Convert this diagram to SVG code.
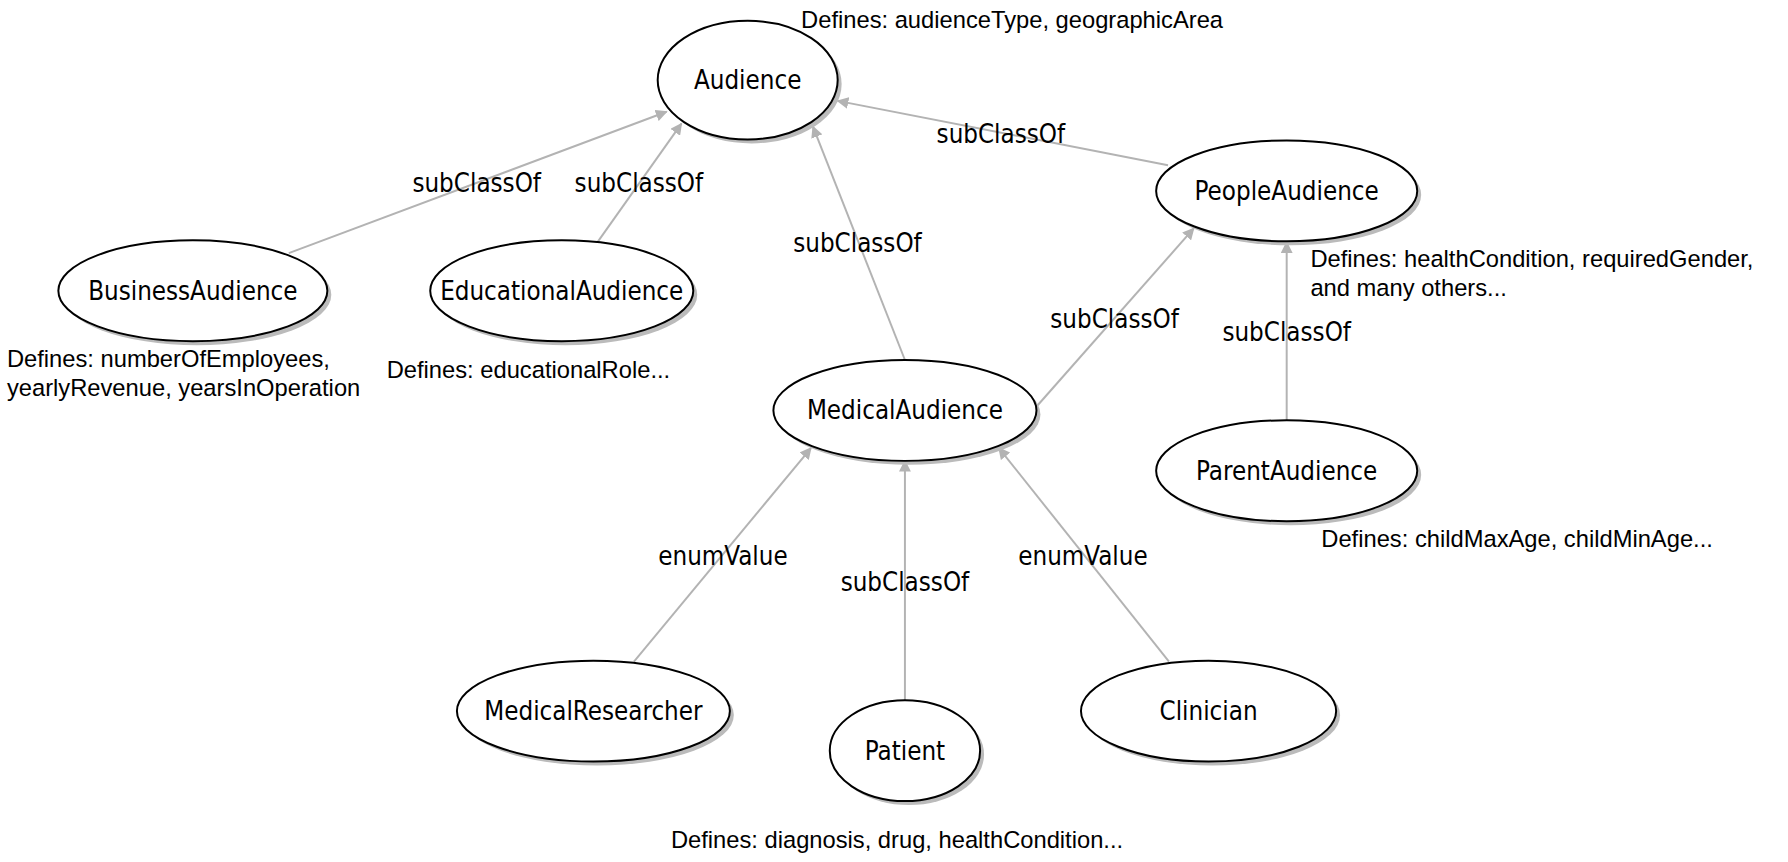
<svg xmlns="http://www.w3.org/2000/svg" width="1788" height="862" viewBox="0 0 1788 862">
<style>
.n ellipse.b{fill:#fff;stroke:#000;stroke-width:2}
.n ellipse.s{fill:#bbb}
.n text{font-family:"DejaVu Sans Condensed","DejaVu Sans",sans-serif;font-size:26px;text-anchor:middle;dominant-baseline:central}
.e line{stroke:#b3b3b3;stroke-width:2;marker-end:url(#a)}
.l{font-family:"DejaVu Sans Condensed","DejaVu Sans",sans-serif;font-size:26px;text-anchor:middle;dominant-baseline:central}
.d{font-family:"Liberation Sans",Arial,sans-serif;font-size:24px}
</style>
<defs><marker id="a" viewBox="0 0 10 10" refX="9" refY="5" markerWidth="6" markerHeight="6" orient="auto"><path d="M0,0L10,5L0,10z" fill="#b3b3b3"/></marker></defs>
<rect width="1788" height="862" fill="#fff"/>
<g transform="scale(0.989)">
<g class="e">
<line x1="292" y1="256" x2="674" y2="113"/>
<line x1="604" y1="245" x2="689" y2="125"/>
<line x1="915" y1="364" x2="822" y2="128"/>
<line x1="1181" y1="167" x2="847" y2="102"/>
<line x1="1049" y1="410" x2="1207" y2="231"/>
<line x1="1301" y1="426" x2="1301" y2="245"/>
<line x1="641" y1="669" x2="820" y2="453"/>
<line x1="915" y1="708" x2="915" y2="466"/>
<line x1="1182" y1="669" x2="1010" y2="453"/>
<text class="l" x="482" y="185">subClassOf</text>
<text class="l" x="646" y="185">subClassOf</text>
<text class="l" x="867" y="246">subClassOf</text>
<text class="l" x="1012" y="135">subClassOf</text>
<text class="l" x="1127" y="323">subClassOf</text>
<text class="l" x="1301" y="336">subClassOf</text>
<text class="l" x="731" y="562">enumValue</text>
<text class="l" x="915" y="588">subClassOf</text>
<text class="l" x="1095" y="562">enumValue</text>
</g>
<g id="Audience" class="n"><ellipse class="s" cx="760" cy="85" rx="91" ry="60"/><ellipse class="b" cx="756" cy="81" rx="91" ry="60"/><text x="756" y="81">Audience</text></g>
<g id="BusinessAudience" class="n"><ellipse class="s" cx="199" cy="298" rx="136" ry="51"/><ellipse class="b" cx="195" cy="294" rx="136" ry="51"/><text x="195" y="294">BusinessAudience</text></g>
<g id="EducationalAudience" class="n"><ellipse class="s" cx="572" cy="298" rx="133" ry="51"/><ellipse class="b" cx="568" cy="294" rx="133" ry="51"/><text x="568" y="294">EducationalAudience</text></g>
<g id="PeopleAudience" class="n"><ellipse class="s" cx="1305" cy="197" rx="132" ry="51"/><ellipse class="b" cx="1301" cy="193" rx="132" ry="51"/><text x="1301" y="193">PeopleAudience</text></g>
<g id="MedicalAudience" class="n"><ellipse class="s" cx="919" cy="419" rx="133" ry="51"/><ellipse class="b" cx="915" cy="415" rx="133" ry="51"/><text x="915" y="415">MedicalAudience</text></g>
<g id="ParentAudience" class="n"><ellipse class="s" cx="1305" cy="480" rx="132" ry="51"/><ellipse class="b" cx="1301" cy="476" rx="132" ry="51"/><text x="1301" y="476">ParentAudience</text></g>
<g id="MedicalResearcher" class="n"><ellipse class="s" cx="604" cy="723" rx="138" ry="51"/><ellipse class="b" cx="600" cy="719" rx="138" ry="51"/><text x="600" y="719">MedicalResearcher</text></g>
<g id="Patient" class="n"><ellipse class="s" cx="919" cy="763" rx="76" ry="51"/><ellipse class="b" cx="915" cy="759" rx="76" ry="51"/><text x="915" y="759">Patient</text></g>
<g id="Clinician" class="n"><ellipse class="s" cx="1226" cy="723" rx="129" ry="51"/><ellipse class="b" cx="1222" cy="719" rx="129" ry="51"/><text x="1222" y="719">Clinician</text></g>
<g id="notes">
<text class="d" x="810" y="28">Defines: audienceType, geographicArea</text>
<text class="d" x="7" y="371">Defines: numberOfEmployees,</text>
<text class="d" x="7" y="400">yearlyRevenue, yearsInOperation</text>
<text class="d" x="391" y="382">Defines: educationalRole...</text>
<text class="d" x="1325" y="270">Defines: healthCondition, requiredGender,</text>
<text class="d" x="1325" y="299">and many others...</text>
<text class="d" x="1336" y="553">Defines: childMaxAge, childMinAge...</text>
<text class="d" x="907" y="857" text-anchor="middle">Defines: diagnosis, drug, healthCondition...</text>
</g>
</g>
</svg>
